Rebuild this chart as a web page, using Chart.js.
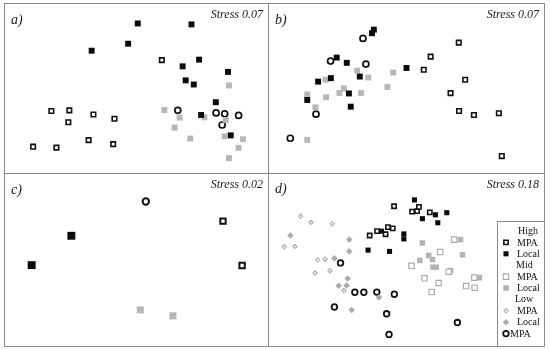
<!DOCTYPE html>
<html>
<head>
<meta charset="utf-8">
<script src="https://cdn.jsdelivr.net/npm/chart.js@4.4.0/dist/chart.umd.min.js"></script>
<style>
  body { margin: 0; background: #fff; width: 550px; height: 350px; position: relative; overflow: hidden; }
  .panel { position: absolute; border: 1px solid #8a8a8a; box-sizing: border-box; }
  .panel canvas { position: absolute; left: 0; top: 0; }
  .tag { position: absolute; font-family: "Liberation Serif", serif; font-style: italic; font-size: 14px; line-height: 14px; color: #1a1a1a; }
  .stress { position: absolute; right: 5px; top: 3px; font-family: "Liberation Serif", serif; font-style: italic; font-size: 12px; color: #1a1a1a; white-space: nowrap; }
</style>
</head>
<body>
<script>
// NMDS coordinates (0-100 in both directions, y upwards)

// a)
const aHighMPA = [[60.0,67.8],[16.4,35.9],[23.5,36.3],[23.1,28.8],[33.0,33.7],[41.3,31.0],[9.2,13.5],[18.4,12.9],[31.1,17.6],[40.8,15.1]];
const aHighLocal = [[50.5,90.8],[71.7,90.2],[32.3,73.7],[46.7,78.1],[74.7,68.1],[68.2,63.9],[86.1,60.4],[69.4,55.1],[72.6,52.5],[81.3,41.4],[75.5,33.4],[87.2,20.6]];
const aMidLocal = [[86.5,51.9],[61.0,36.5],[67.0,31.8],[76.8,31.9],[65.0,25.5],[71.2,18.6],[85.2,30.2],[84.8,20.0],[92.0,18.2],[90.3,12.8],[86.5,6.3]];
const aLowMPA = [[66.3,36.3],[81.4,34.7],[84.8,34.1],[90.3,33.1],[83.8,27.1]];

// b)
const bHighMPA = [[69.7,78.8],[59.1,70.0],[56.5,61.8],[72.1,55.5],[66.6,47.1],[69.8,35.9],[75.4,33.4],[84.8,34.5],[85.9,7.6]];
const bHighLocal = [[37.7,86.9],[37.0,84.7],[23.7,69.4],[27.5,66.1],[21.5,56.5],[16.7,54.3],[32.4,57.5],[50.0,62.9],[28.3,46.9],[12.6,42.8],[29.0,38.6]];
const bMidLocal = [[31.4,61.2],[35.6,56.9],[45.0,60.0],[19.5,55.5],[12.6,46.3],[26.4,50.0],[24.7,47.2],[19.7,44.5],[32.9,47.2],[42.8,51.0],[15.7,38.1],[12.6,17.8]];
const bLowMPA = [[33.6,81.4],[21.4,67.2],[34.7,65.3],[15.9,33.9],[6.2,18.8]];

// c)
const cHighMPA = [[84.4,74.2],[92.0,46.6]];
const cHighLocal = [[24.1,65.1],[8.3,46.8]];
const cMidLocal = [[51.5,18.9],[64.5,15.2]];
const cLowMPA = [[53.7,86.5]];

// d)
const dHighMPA = [[45.3,83.2],[52.1,79.9],[54.0,80.2],[54.7,82.8],[58.8,79.4],[36.1,65.1],[38.9,67.8],[42.1,65.9],[43.0,70.3],[44.8,69.5]];
const dHighLocal = [[53.0,87.1],[56.0,75.5],[60.9,77.9],[65.2,79.2],[61.8,73.0],[40.6,67.8],[49.0,66.1],[49.0,63.0],[35.5,56.1],[43.6,55.3]];
const dMidMPA = [[68.0,62.6],[62.7,54.9],[51.9,46.4],[56.8,38.7],[62.1,35.8],[59.5,30.2],[65.9,42.8],[72.5,33.9],[75.7,32.9],[75.6,39.1]];
const dMidLocal = [[70.4,62.6],[56.0,60.5],[71.1,53.2],[58.4,52.8],[55.0,49.7],[59.8,50.3],[60.0,45.5],[61.2,45.5],[66.7,43.5],[77.5,39.1]];
const dLowMPA = [[10.0,77.1],[14.0,73.2],[22.0,72.3],[3.9,58.2],[7.9,58.4],[16.4,50.1],[19.3,50.5],[15.5,42.0],[21.1,43.4],[26.4,31.2]];
const dLowLocal = [[6.2,65.1],[28.4,62.6],[28.4,55.3],[22.8,51.0],[27.8,38.6],[24.4,34.1],[27.4,34.3],[39.6,27.0],[29.3,19.1]];
const dLowCircle = [[25.1,48.2],[30.5,30.1],[33.9,30.1],[38.8,30.2],[45.4,28.9],[22.8,21.0],[42.5,16.8],[69.2,11.4],[43.4,4.0]];

const stressText = ['Stress 0.07', 'Stress 0.07', 'Stress 0.02', 'Stress 0.18'];
const panelTags = ['a)', 'b)', 'c)', 'd)'];

// panel boxes: left, top, width, height
const boxes = [[4, 3, 265, 171], [268, 3, 277, 171], [4, 173, 265, 174], [268, 173, 277, 174]];
const tagTops = [9, 9, 9, 8];

function pts(arr) {
  return arr.map(p => ({ x: p[0], y: p[1] }));
}

function set(label, arr, style) {
  return Object.assign({
    label: label,
    data: pts(arr),
    showLine: false,
    clip: false,
    pointBorderWidth: 0,
    pointBorderColor: '#111',
    pointBackgroundColor: '#111',
    pointHoverRadius: 0
  }, style);
}

const openSq = (r, w) => ({ pointStyle: 'rect', pointRadius: r, pointBorderWidth: w, pointBorderColor: '#111', pointBackgroundColor: '#fff' });
const fillSq = (r, c) => ({ pointStyle: 'rect', pointRadius: r, pointBackgroundColor: c, pointBorderWidth: 0 });
const ring = (r, w) => ({ pointStyle: 'circle', pointRadius: r, pointBorderWidth: w, pointBorderColor: '#111', pointBackgroundColor: '#fff' });

const panelSets = [
  [
    set('High MPA', aHighMPA, openSq(3.2, 1.6)),
    set('High Local', aHighLocal, fillSq(4.2, '#0a0a0a')),
    set('Mid Local', aMidLocal, fillSq(4.2, '#b7b7b7')),
    set('Low MPA', aLowMPA, ring(3.0, 1.7))
  ],
  [
    set('High MPA', bHighMPA, openSq(3.2, 1.6)),
    set('High Local', bHighLocal, fillSq(4.2, '#0a0a0a')),
    set('Mid Local', bMidLocal, fillSq(4.2, '#b7b7b7')),
    set('Low MPA', bLowMPA, ring(3.0, 1.7))
  ],
  [
    set('High MPA', cHighMPA, openSq(3.8, 2)),
    set('High Local', cHighLocal, fillSq(5.6, '#0a0a0a')),
    set('Mid Local', cMidLocal, fillSq(5.0, '#b7b7b7')),
    set('Low MPA', cLowMPA, ring(3.2, 2))
  ],
  [
    set('High MPA', dHighMPA, openSq(3.0, 1.6)),
    set('High Local', dHighLocal, fillSq(3.6, '#0a0a0a')),
    set('Mid MPA', dMidMPA, { pointStyle: 'rect', pointRadius: 3.8, pointBorderWidth: 1.2, pointBorderColor: '#ababab', pointBackgroundColor: '#fff' }),
    set('Mid Local', dMidLocal, fillSq(3.9, '#b3b3b3')),
    set('Low MPA', dLowMPA, { pointStyle: 'rectRot', pointRadius: 2.1, pointBorderWidth: 1.2, pointBorderColor: '#b0b0b0', pointBackgroundColor: '#fff' }),
    set('Low Local', dLowLocal, { pointStyle: 'rectRot', pointRadius: 3.3, pointBackgroundColor: '#acacac', pointBorderWidth: 0 }),
    set('MPA', dLowCircle, ring(2.8, 1.8))
  ]
];

// legend of panel d: group headers and dataset indices
const legendRows = [['High', null], ['MPA', 0], ['Local', 1], ['Mid', null], ['MPA', 2], ['Local', 3], ['Low', null], ['MPA', 4], ['Local', 5], ['MPA', 6]];
const headerX = { High: 249, Mid: 247, Low: 246 };

const boxLegend = {
  id: 'boxLegend',
  afterDatasetsDraw(chart) {
    const ctx = chart.ctx;
    const x0 = 228.5, y0 = 47.5;
    ctx.save();
    ctx.fillStyle = '#fff';
    ctx.strokeStyle = '#8a8a8a';
    ctx.lineWidth = 1;
    ctx.fillRect(x0, y0, chart.width - x0 + 5, chart.height - y0 + 5);
    ctx.strokeRect(x0, y0, chart.width - x0 + 5, chart.height - y0 + 5);
    ctx.font = '10px "Liberation Serif", serif';
    ctx.textBaseline = 'middle';
    legendRows.forEach((row, i) => {
      const y = 57 + i * 11.4;
      ctx.fillStyle = '#111';
      if (row[1] === null) {
        ctx.fillText(row[0], headerX[row[0]], y);
        return;
      }
      const ds = chart.data.datasets[row[1]];
      ctx.fillStyle = ds.pointBackgroundColor;
      ctx.strokeStyle = ds.pointBorderColor;
      ctx.lineWidth = ds.pointBorderWidth;
      Chart.helpers.drawPoint(ctx, {
        pointStyle: ds.pointStyle,
        radius: ds.pointRadius,
        borderWidth: ds.pointBorderWidth,
        rotation: 0
      }, 237, y);
      ctx.fillStyle = '#111';
      ctx.fillText(row[0], row[1] === 6 ? 241 : 248, y + 0.5);
    });
    ctx.restore();
  }
};

boxes.forEach((b, i) => {
  const div = document.createElement('div');
  div.className = 'panel';
  div.style.left = b[0] + 'px';
  div.style.top = b[1] + 'px';
  div.style.width = b[2] + 'px';
  div.style.height = b[3] + 'px';
  document.body.appendChild(div);

  const cv = document.createElement('canvas');
  cv.width = b[2] - 2;
  cv.height = b[3] - 2;
  div.appendChild(cv);

  const tag = document.createElement('div');
  tag.className = 'tag';
  tag.style.left = '6px';
  tag.style.top = tagTops[i] + 'px';
  tag.textContent = panelTags[i];
  div.appendChild(tag);

  const st = document.createElement('div');
  st.className = 'stress';
  st.textContent = stressText[i];
  div.appendChild(st);

  new Chart(cv, {
    type: 'scatter',
    data: { datasets: panelSets[i] },
    options: {
      responsive: false,
      animation: false,
      events: [],
      layout: { padding: 0 },
      scales: {
        x: { display: false, min: 0, max: 100 },
        y: { display: false, min: 0, max: 100 }
      },
      plugins: { legend: { display: false }, tooltip: { enabled: false } }
    },
    plugins: i === 3 ? [boxLegend] : []
  });
});
</script>
</body>
</html>
